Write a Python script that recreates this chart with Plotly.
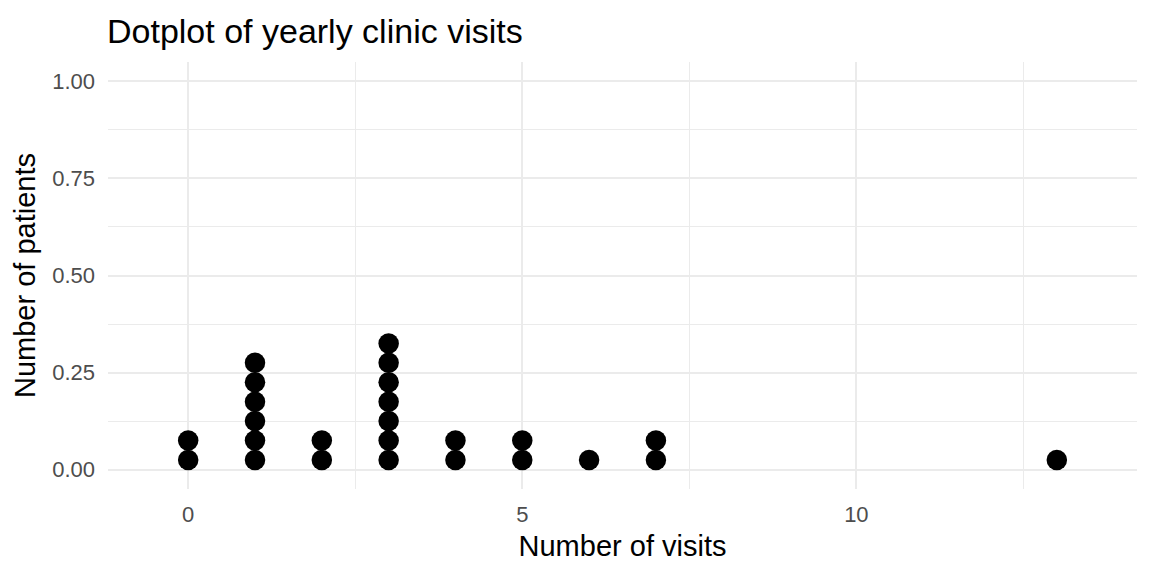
import plotly.graph_objects as go

# yearly clinic visits per patient
visits = [0, 1, 2, 3, 4, 5, 6, 7, 13]
patients = [2, 6, 2, 7, 2, 2, 1, 2, 1]

# each dot stacks at a height of 1/20 (ggplot dotplot scaling)
dot_height = 0.05

xs = []
ys = []
for v, n in zip(visits, patients):
    for k in range(n):
        xs.append(v)
        ys.append(dot_height / 2 + k * dot_height)

fig = go.Figure()

fig.add_trace(go.Scatter(
    x=xs,
    y=ys,
    mode='markers',
    marker=dict(color='black', size=20.5, line=dict(width=0)),
    showlegend=False,
    hoverinfo='skip'
))

font = "Liberation Sans, Arial, sans-serif"

# page body has an 8px margin, so the figure is 8px smaller than the window
W, H = 1144, 568

fig.update_layout(
    width=W,
    height=H,
    paper_bgcolor='white',
    plot_bgcolor='white',
    margin=dict(l=100, r=15, t=54, b=87),
    title=dict(
        text='Dotplot of yearly clinic visits',
        x=99 / W, xanchor='left',
        y=1 - 23 / H, yanchor='middle',
        font=dict(family=font, size=34, color='black')
    ),
    xaxis=dict(
        range=[-1.2, 14.2],
        tickvals=[0, 5, 10],
        ticks='',
        showline=False,
        zeroline=False,
        automargin=False,
        gridcolor='#ebebeb',
        gridwidth=1.6,
        minor=dict(tickvals=[2.5, 7.5, 12.5], showgrid=True,
                   gridcolor='#ebebeb', gridwidth=0.8, ticks=''),
        tickfont=dict(family=font, size=22, color='#4d4d4d'),
        ticklabelstandoff=10,
        title=dict(text='Number of visits', standoff=9,
                   font=dict(family=font, size=29, color='black'))
    ),
    yaxis=dict(
        range=[-0.05, 1.05],
        tickvals=[0, 0.25, 0.5, 0.75, 1.0],
        ticktext=['0.00', '0.25', '0.50', '0.75', '1.00'],
        ticks='',
        showline=False,
        zeroline=False,
        automargin=False,
        gridcolor='#ebebeb',
        gridwidth=1.6,
        minor=dict(tickvals=[0.125, 0.375, 0.625, 0.875], showgrid=True,
                   gridcolor='#ebebeb', gridwidth=0.8, ticks=''),
        tickfont=dict(family=font, size=22, color='#4d4d4d'),
        ticklabelstandoff=12,
        title=dict(text='Number of patients', standoff=8,
                   font=dict(family=font, size=29, color='black'))
    )
)

fig.write_html("out.html")
